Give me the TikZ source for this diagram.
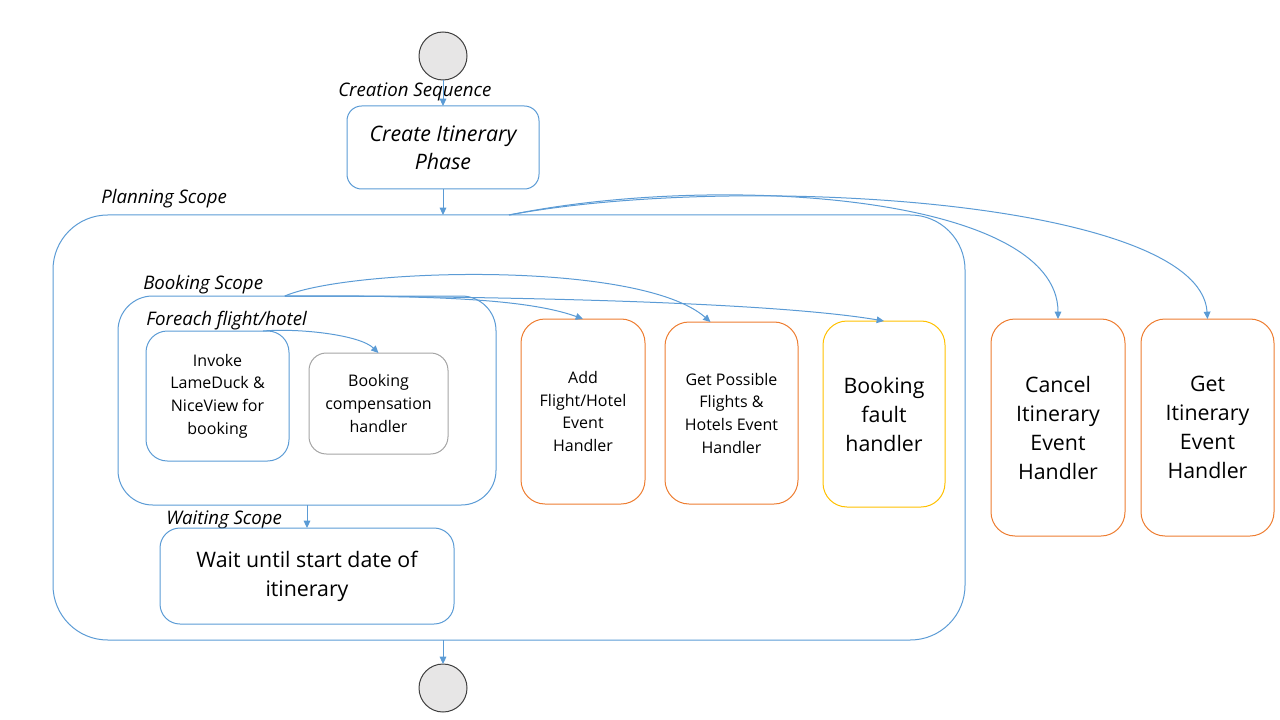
\documentclass[tikz,border=0pt]{standalone}
\usepackage{fontspec}
\setmainfont{Open Sans}
\usepackage{tikz}
\usetikzlibrary{arrows.meta, positioning}
\definecolor{lineblue}{RGB}{91, 155, 213}
\definecolor{handorange}{RGB}{237, 125, 49}
\definecolor{handyellow}{RGB}{255, 192, 0}
\definecolor{handgray}{RGB}{165, 165, 165}
\definecolor{statefill}{RGB}{231, 230, 230}

\begin{document}
\begin{tikzpicture}[
  x=0.75pt, y=-0.75pt,
  box/.style={draw=lineblue, line width=0.75pt, inner sep=0pt, outer sep=0pt, align=center},
  handler/.style={box, draw=handorange, rounded corners=18pt},
  state/.style={circle, draw=black!75, fill=statefill, line width=0.75pt, minimum size=36pt, inner sep=0pt, outer sep=0pt},
  scopelabel/.style={anchor=base west, font=\itshape\fontsize{14}{17}\selectfont, inner sep=0pt},
  small/.style={font=\fontsize{12}{17}\selectfont},
  big/.style={font=\fontsize{16}{21.75}\selectfont},
  arrow/.style={-{Triangle[length=5.5pt, width=5pt]}, draw=lineblue, line width=0.75pt}
]
\useasboundingbox (0,0) rectangle (1280,720);

% start and creation phase
\node[state] (start) at (443, 56) {};
\node[scopelabel] at (338, 97) {Creation Sequence};
\node[box, rounded corners=11pt, minimum width=144pt, minimum height=62.25pt,
  font=\itshape\fontsize{16}{21}\selectfont] (create) at (443, 147.5) {Create Itinerary\\Phase};

% planning scope
\node[scopelabel] at (101, 204) {Planning Scope};
\node[box, rounded corners=41pt, minimum width=684pt, minimum height=318.75pt] (planning) at (509, 427.5) {};

% booking scope with foreach
\node[scopelabel] at (143, 289) {Booking Scope};
\node[box, rounded corners=26pt, minimum width=283.5pt, minimum height=156.75pt] (booking) at (307, 400.5) {};
\node[scopelabel] at (146, 325) {Foreach flight/hotel};
\node[box, small, rounded corners=16pt, minimum width=107.25pt, minimum height=97.5pt] (invoke) at (217.5, 396)
  {Invoke\\LameDuck \&\\NiceView for\\booking};
\node[box, small, draw=handgray, rounded corners=13pt, minimum width=104.25pt, minimum height=75.75pt] (compensation) at (378.5, 403.5)
  {Booking\\compensation\\handler};

% handlers in the planning scope
\node[handler, small, minimum width=93pt, minimum height=138.75pt] (addflight) at (583, 411.5)
  {Add\\Flight/Hotel\\Event\\Handler};
\node[handler, small, minimum width=99.75pt, minimum height=136.5pt] (possible) at (731.5, 413)
  {Get Possible\\Flights \&\\Hotels Event\\Handler};
\node[handler, big, draw=handyellow, minimum width=91.5pt, minimum height=139.5pt] (fault) at (884, 414)
  {Booking\\fault\\handler};

% handlers outside
\node[handler, big, minimum width=100.5pt, minimum height=162.75pt] (cancel) at (1058, 427.5)
  {Cancel\\Itinerary\\Event\\Handler};
\node[handler, big, minimum width=99.75pt, minimum height=162.75pt] (getitin) at (1207.5, 427.5)
  {Get\\Itinerary\\Event\\Handler};

% waiting scope
\node[scopelabel] at (166, 524) {Waiting Scope};
\node[box, big, rounded corners=15pt, minimum width=220.5pt, minimum height=72pt] (wait) at (307, 576)
  {Wait until start date of\\itinerary};

% end
\node[state] (end) at (443, 688) {};

% flow
\draw[arrow] (start) -- (create);
\draw[arrow] (create) -- (create |- planning.north);
\draw[arrow] (booking) -- (wait);
\draw[arrow] (planning.south -| end) -- (end);

% event links
\draw[arrow] (planning.north) .. controls (720, 172) and (1058, 195) .. (cancel.north);
\draw[arrow] (planning.north) .. controls (740, 172) and (1200, 200) .. (getitin.north);
\draw[arrow] (booking.102) .. controls (400, 296) and (520, 296) .. (addflight.north);
\draw[arrow] (booking.102) .. controls (350, 268) and (640, 260) .. (possible.103);
\draw[arrow] (booking.102) .. controls (450, 296) and (760, 300) .. (fault.north);
\draw[arrow] (invoke.55) .. controls (300, 328) and (360, 335) .. (compensation.north);

\end{tikzpicture}
\end{document}
